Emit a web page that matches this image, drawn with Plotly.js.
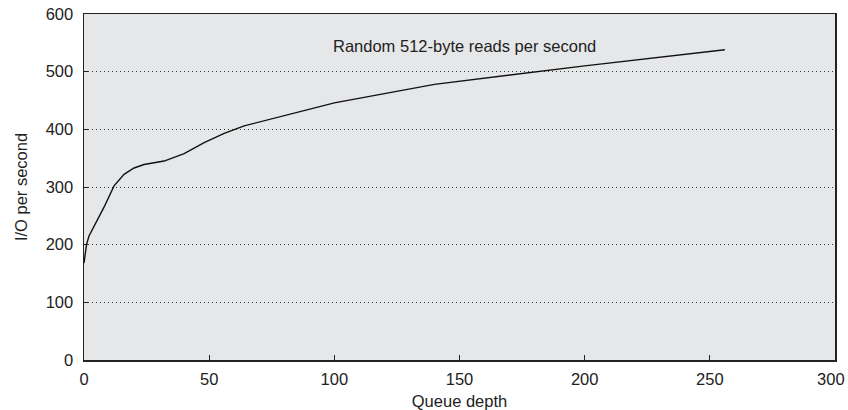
<!DOCTYPE html>
<html>
<head>
<meta charset="utf-8">
<script src="https://cdn.plot.ly/plotly-3.0.1.min.js"></script>
<style>html,body{margin:0;padding:0;background:#fff;}#chart{width:848px;height:410px;}</style>
</head>
<body>
<div id="chart"></div>
<script>
const queueDepth = [0, 1, 2, 4, 8, 12, 16, 20, 24, 32, 40, 48, 56, 64, 100, 140, 200, 256];
const ioPerSecond = [168, 200, 215, 232, 265, 302, 322, 333, 339, 345, 358, 377, 393, 406, 446, 478, 510, 538];
const xTickVals = [0, 50, 100, 150, 200, 250, 300];
const xTickText = ["0", "50", "100", "150", "200", "250", "300\u2002"];
const seriesLabel = "Random 512-byte reads per second";
const xTitle = "Queue depth";
const yTitle = "I/O per second";

const font = {family: "Liberation Sans, Arial, sans-serif", size: 16.5, color: "#222"};

Plotly.newPlot("chart", [{
  x: queueDepth, y: ioPerSecond, type: "scatter", mode: "lines",
  line: {color: "#111", width: 1.4}, showlegend: false, hoverinfo: "skip"
}], {
  width: 848, height: 410,
  margin: {l: 84, r: 13, t: 14, b: 50},
  paper_bgcolor: "#fff", plot_bgcolor: "#e6e7e9",
  font: font,
  xaxis: {
    range: [0, 300], tickvals: xTickVals, ticktext: xTickText,
    ticks: "inside", ticklen: 5, tickcolor: "#222", tickwidth: 1,
    showgrid: false, zeroline: false,
    showline: true, linecolor: "#222", linewidth: 1.5, mirror: true,
    ticklabelstandoff: 4, ticklabeloverflow: "allow",
    title: {text: xTitle, font: font, standoff: 8},
    tickfont: font
  },
  yaxis: {
    range: [0, 600], tickvals: [0, 100, 200, 300, 400, 500, 600],
    ticks: "inside", ticklen: 4, tickcolor: "#222", tickwidth: 1,
    showgrid: true, gridcolor: "#333", gridwidth: 1, griddash: "1px,3px",
    zeroline: false,
    showline: true, linecolor: "#222", linewidth: 1.5, mirror: true,
    ticklabelstandoff: 6, ticklabeloverflow: "allow",
    title: {text: yTitle, font: font, standoff: 14},
    tickfont: font
  },
  annotations: [{
    x: 152, y: 545, xref: "x", yref: "y", text: seriesLabel, showarrow: false,
    font: font, xanchor: "center", yanchor: "middle"
  }]
}, {staticPlot: true});
</script>
</body>
</html>
